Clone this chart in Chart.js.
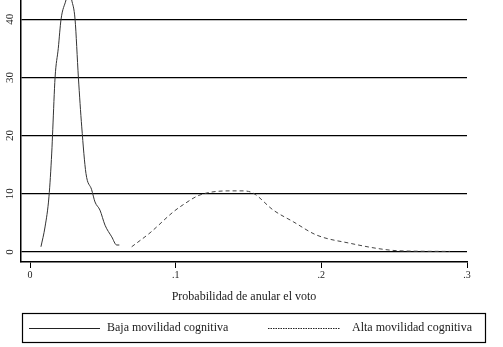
<!DOCTYPE html>
<html><head><meta charset="utf-8">
<script src="https://cdn.jsdelivr.net/npm/chart.js@4/dist/chart.umd.min.js"></script>
<style>html,body{margin:0;padding:0;background:#fff}#wrap{width:503px;height:347px;position:relative}</style>
</head><body><div id="wrap"><canvas id="c"></canvas></div>
<script>
const bajaX = [0.0075,0.0103,0.0130,0.0149,0.0156,0.0172,0.0194,0.0213,0.0247,0.0267,0.0286,0.0309,0.0332,0.0355,0.0384,0.0423,0.0446,0.0480,0.0515,0.0561,0.0595,0.0613];
const bajaY = [0.9,4.3,9.5,17.0,21.0,30.0,35.0,40.0,43.3,45.3,43.3,40.0,30.0,21.5,13.5,10.7,8.6,7.2,4.6,2.6,1.2,1.2];
const altaX = [0.0698,0.0824,0.0984,0.1050,0.1167,0.1373,0.1464,0.1533,0.1670,0.1807,0.1968,0.2196,0.2425,0.2540,0.2883];
const altaY = [0.9,3.3,6.9,8.1,9.8,10.5,10.5,10.1,7.2,5.2,2.9,1.5,0.46,0.2,0.1];
const xTicks = [0,0.1,0.2,0.3];
const yTicks = [0,10,20,30,40];
const seriesLabels = ['Baja movilidad cognitiva','Alta movilidad cognitiva'];
const xTitle = 'Probabilidad de anular el voto';

const serif = "'Liberation Serif', 'DejaVu Serif', serif";
const toPts = (xs, ys) => xs.map((x,i)=>({x, y: ys[i]}));

const legendPlugin = {
  id: 'boxLegend',
  afterDraw(chart) {
    const ctx = chart.ctx;
    ctx.save();
    ctx.strokeStyle = '#000';
    ctx.lineWidth = 1.2;
    ctx.strokeRect(22.5, 313.5, 463, 29);
    const ds = chart.data.datasets;
    const items = [{x0:29,x1:100,tx:107},{x0:268,x1:340,tx:352}];
    ctx.font = '12px ' + serif;
    ctx.textBaseline = 'middle';
    ctx.fillStyle = '#1a1a1a';
    items.forEach((it,i)=>{
      ctx.beginPath();
      ctx.lineWidth = 1;
      ctx.strokeStyle = '#222';
      ctx.setLineDash(i===0 ? [] : [1.5,1]);
      ctx.moveTo(it.x0, 328.5); ctx.lineTo(it.x1, 328.5); ctx.stroke();
      ctx.setLineDash([]);
      ctx.fillText(ds[i].label, it.tx, 328);
    });
    ctx.restore();
  }
};

new Chart(document.getElementById('c'), {
  type: 'line',
  data: {
    datasets: [
      {label: seriesLabels[0], data: toPts(bajaX,bajaY), borderColor:'#333', borderWidth:1, pointRadius:0, cubicInterpolationMode:'monotone', fill:false},
      {label: seriesLabels[1], data: toPts(altaX,altaY), borderColor:'#444', borderWidth:1, borderDash:[4,3], pointRadius:0, cubicInterpolationMode:'monotone', fill:false}
    ]
  },
  options: {
    responsive: true, maintainAspectRatio: false, animation: false,
    layout: {padding: {left: 0, right: 36, top: 0, bottom: 43}},
    plugins: {legend: {display:false}, tooltip:{enabled:false}},
    scales: {
      x: {
        type: 'linear', min: -0.0062, max: 0.3,
        afterBuildTicks: s => { s.ticks = xTicks.map(v=>({value:v})); },
        afterFit: s => { s.height = 42; s.paddingLeft = 0; s.paddingRight = 0; },
        grid: {drawOnChartArea:false, drawTicks:true, tickLength:6, color:'#000', lineWidth:1},
        border: {display:true, color:'#000', width:1.5},
        ticks: {color:'#222', font:{family:serif, size:10}, padding:1, maxRotation:0,
          callback: v => v===0 ? '0' : '.' + Math.round(v*10)},
        title: {display:true, text:xTitle, color:'#1a1a1a', font:{family:serif, size:12}, padding:{top:6,bottom:0}}
      },
      y: {
        min: -1.72, max: 43.3,
        afterBuildTicks: s => { s.ticks = yTicks.map(v=>({value:v})); },
        afterFit: s => { s.width = 21; s.paddingTop = 0; s.paddingBottom = 0; },
        grid: {drawOnChartArea:true, drawTicks:false, color:'#000', lineWidth:1.3},
        border: {display:true, color:'#000', width:1.5},
        ticks: {color:'#222', font:{family:serif, size:11}, padding:5, crossAlign:'center', minRotation:90, maxRotation:90}
      }
    }
  },
  plugins: [legendPlugin]
});
</script></body></html>
